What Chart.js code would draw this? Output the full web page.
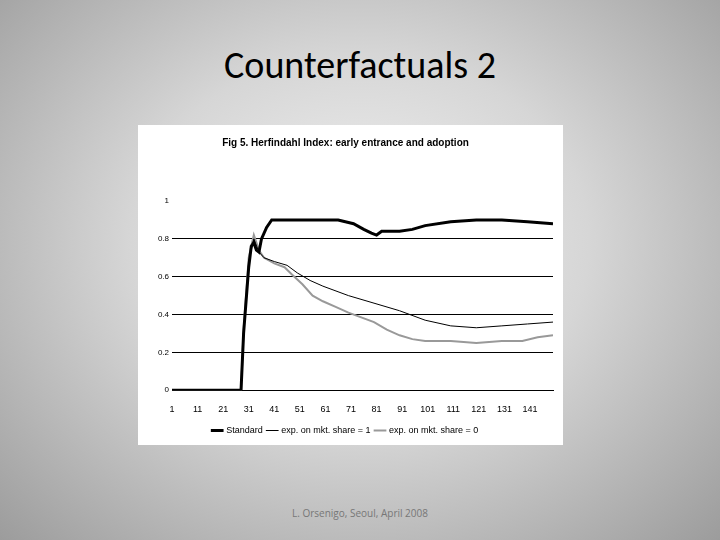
<!DOCTYPE html>
<html><head><meta charset="utf-8">
<script src="https://cdn.jsdelivr.net/npm/chart.js@4"></script>
<style>
html,body{margin:0;padding:0;}
body{width:720px;height:540px;position:relative;overflow:hidden;
background:radial-gradient(ellipse at 50% 45%,#f2f2f2 0%,#d6d6d6 45%,#9c9c9c 100%);font-family:"Open Sans",sans-serif;}
#t{position:absolute;top:42px;left:0;width:720px;text-align:center;font-size:38px;color:#000;font-family:Calibri,"Carlito","Open Sans",sans-serif;}
#box{position:absolute;left:138px;top:125px;width:425px;height:320px;background:#fff;}
#f{position:absolute;top:506px;left:0;width:720px;text-align:center;font-size:10px;color:#777;}
</style></head><body>
<div id="t">Counterfactuals 2</div>
<div id="box"><canvas id="c" width="425" height="320"></canvas></div>
<div id="f">L. Orsenigo, Seoul, April 2008</div>
<script>
const xTicks=[1,11,21,31,41,51,61,71,81,91,101,111,121,131,141];
const standard=[[1,0],[28,0],[29,0.3],[31,0.65],[32,0.76],[33,0.78],[34,0.74],[35,0.73],[36,0.8],[38,0.86],[40,0.9],[50,0.9],[60,0.9],[66,0.9],[72,0.88],[76,0.85],[79,0.83],[81,0.82],[83,0.84],[90,0.84],[95,0.85],[100,0.87],[110,0.89],[120,0.9],[130,0.9],[140,0.89],[150,0.88]];
const expOne=[[1,0],[28,0],[29,0.3],[31,0.68],[33,0.8],[35,0.73],[37,0.7],[41,0.68],[46,0.66],[50,0.62],[55,0.58],[60,0.55],[70,0.5],[80,0.46],[90,0.42],[100,0.37],[110,0.34],[120,0.33],[130,0.34],[140,0.35],[150,0.36]];
const expZero=[[1,0],[28,0],[29,0.32],[31,0.7],[33,0.82],[35,0.74],[37,0.7],[41,0.67],[45,0.65],[48,0.61],[52,0.56],[56,0.5],[60,0.47],[65,0.44],[70,0.41],[80,0.36],[85,0.32],[90,0.29],[95,0.27],[100,0.26],[110,0.26],[120,0.25],[130,0.26],[138,0.26],[144,0.28],[150,0.29]];
const yTicks=[0,0.2,0.4,0.6,0.8,1];
const pts=a=>a.map(p=>({x:p[0],y:p[1]}));
new Chart(document.getElementById('c'),{type:'line',
data:{datasets:[
{label:'Standard',data:pts(standard),borderColor:'#000',backgroundColor:'#000',borderWidth:3,pointRadius:0},
{label:'exp. on mkt. share = 1',data:pts(expOne),borderColor:'#000',backgroundColor:'#000',borderWidth:1,pointRadius:0},
{label:'exp. on mkt. share = 0',data:pts(expZero),borderColor:'#999',backgroundColor:'#999',borderWidth:2,pointRadius:0}]},
options:{responsive:false,animation:false,
layout:{padding:{left:0,right:10,top:0,bottom:0}},
plugins:{title:{display:true,text:'Fig 5. Herfindahl Index: early entrance and adoption',color:'#000',font:{family:'Liberation Sans',size:10,weight:'bold'},padding:{top:12,bottom:52}},
legend:{position:'bottom',labels:{usePointStyle:true,pointStyle:'line',boxWidth:22,color:'#000',font:{family:'Liberation Sans',size:9},padding:5}}},
scales:{x:{type:'linear',min:1,max:150,afterBuildTicks:s=>{s.ticks=xTicks.map(v=>({value:v}));},
ticks:{color:'#000',font:{family:'Liberation Sans',size:9},maxRotation:0,autoSkip:false,padding:6},
grid:{display:false,drawTicks:true},border:{color:'#000'}},
y:{min:0,max:1,afterBuildTicks:s=>{s.ticks=yTicks.map(v=>({value:v}));},
ticks:{color:'#000',font:{family:'Liberation Sans',size:8},callback:v=>String(v)},
grid:{color:c=>c.tick&&c.tick.value===1?'rgba(0,0,0,0)':'#000',drawTicks:false},border:{display:false},afterFit:s=>{s.width=34;}}}}});
</script></body></html>
